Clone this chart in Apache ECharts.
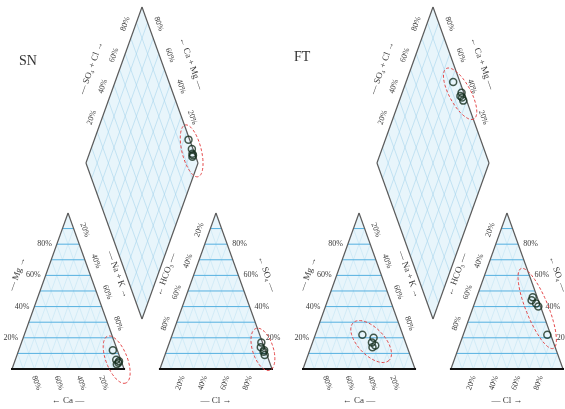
<!DOCTYPE html>
<html>
<head>
<meta charset="utf-8">
<script src="https://cdn.jsdelivr.net/npm/echarts@6/dist/echarts.min.js"></script>
<style>
  html, body { margin: 0; padding: 0; background: #fff; }
  #chart { width: 565px; height: 409px; }
</style>
</head>
<body>
<div id="chart"></div>
<script>
// sites (one Piper diagram each)
const sites = ['SN', 'FT'];

// SN samples, % meq/L
const snCa   = [3, 4, 2, 5, 4];
const snMg   = [4, 6, 5, 3, 12];
const snNaK  = [93, 90, 93, 92, 84];
const snHCO3 = [2, 1, 3, 2, 1];
const snSO4  = [9, 12, 14, 11, 17];
const snCl   = [89, 87, 83, 87, 82];

// FT samples, % meq/L
const ftCa   = [28, 30, 27, 31, 36];
const ftMg   = [15, 17, 20, 14, 22];
const ftNaK  = [57, 53, 53, 55, 42];
const ftHCO3 = [3, 2, 4, 3, 6];
const ftSO4  = [42, 40, 46, 22, 44];
const ftCl   = [55, 58, 50, 75, 50];

const tickValues = [20, 40, 60, 80];
const tickLabels = ['20%', '40%', '60%', '80%'];

const G = 0.32;          // gap between the two triangles (triangle width = 1)
const EXT = 2 + G;       // axis extent in both directions
const FONT = '"Liberation Serif", "DejaVu Serif", serif';
const LBL = '#3a3a3a';
const HLINE = '#55b0e0';
const DIAG = '#c3e4f3';
const LATT = '#a8d5ec';
const EDGE = '#5a5a5a';

// ternary -> panel units
const catXY = (ca, mg, nak) => [(nak + mg / 2) / 100, mg / 100];
const anXY = (hco3, so4, cl) => [1 + G + (cl + so4 / 2) / 100, so4 / 100];
const dmXY = (ca, mg, so4, cl) => {
  const a = (so4 + cl) / 100, c = (ca + mg) / 100;
  return [1 + G / 2 + 0.5 * (a - c), G + a + c];
};

function sitePoints(ca, mg, nak, hco3, so4, cl) {
  return [
    ca.map((_, i) => catXY(ca[i], mg[i], nak[i])),
    ca.map((_, i) => anXY(hco3[i], so4[i], cl[i])),
    ca.map((_, i) => dmXY(ca[i], mg[i], so4[i], cl[i]))
  ];
}
const groups = [
  sitePoints(snCa, snMg, snNaK, snHCO3, snSO4, snCl),
  sitePoints(ftCa, ftMg, ftNaK, ftHCO3, ftSO4, ftCl)
];

function frameItem(params, api) {
  const P = (x, y) => api.coord([x, y]);
  const ch = [];
  const seg = (a, b, stroke, w) => ch.push({ type: 'line', shape: { x1: a[0], y1: a[1], x2: b[0], y2: b[1] }, style: { stroke, lineWidth: w } });
  const poly = (pts, style) => ch.push({ type: 'polygon', shape: { points: pts }, style });
  const text = (x, y, s, rot, align, size) => ch.push({
    type: 'text', x, y, rotation: rot || 0, z2: 5,
    style: { text: s, fill: LBL, font: (size || 8) + 'px ' + FONT, align: align || 'center', verticalAlign: 'middle' }
  });
  // point at fraction f of A->B, pushed d px to the outer (left-hand) side
  const along = (A, B, f, d) => {
    const dx = B[0] - A[0], dy = B[1] - A[1], L = Math.hypot(dx, dy);
    const ux = dx / L, uy = dy / L;
    return { x: A[0] + f * dx + d * uy, y: A[1] + f * dy - d * ux, rot: -Math.atan2(dy, dx) };
  };
  const edgeText = (A, B, f, d, s, size) => { const q = along(A, B, f, d); text(q.x, q.y, s, q.rot, 'center', size); };

  const cBL = P(0, 0), cBR = P(1, 0), cT = P(0.5, 1);
  const aBL = P(1 + G, 0), aBR = P(2 + G, 0), aT = P(1.5 + G, 1);
  const dB = P(1 + G / 2, G), dL = P(0.5 + G / 2, 1 + G), dT = P(1 + G / 2, 2 + G), dR = P(1.5 + G / 2, 1 + G);

  const fill = { fill: '#e8f5fb', stroke: 'none' };
  poly([cBL, cBR, cT], fill);
  poly([aBL, aBR, aT], fill);
  poly([dB, dR, dT, dL], fill);

  for (let k = 1; k < 10; k++) {
    const v = k / 10;
    [0, 1 + G].forEach(x0 => {
      seg(P(x0 + v, 0), P(x0 + v + (1 - v) / 2, 1 - v), DIAG, 0.6);
      seg(P(x0 + 1 - v, 0), P(x0 + (1 - v) / 2, 1 - v), DIAG, 0.6);
    });
    const bx = 1 + G / 2;
    seg(P(bx + 0.5 * v, G + v), P(bx + 0.5 * v - 0.5, G + v + 1), LATT, 0.6);
    seg(P(bx - 0.5 * v, G + v), P(bx - 0.5 * v + 0.5, G + v + 1), LATT, 0.6);
  }
  for (let k = 1; k < 10; k++) {
    const v = k / 10;
    [0, 1 + G].forEach(x0 => seg(P(x0 + v / 2, v), P(x0 + 1 - v / 2, v), HLINE, 1));
  }

  // outlines
  seg(cBL, cT, EDGE, 1.2); seg(cT, cBR, EDGE, 1.2);
  seg(aBL, aT, EDGE, 1.2); seg(aT, aBR, EDGE, 1.2);
  seg(dB, dR, EDGE, 1.2); seg(dR, dT, EDGE, 1.2); seg(dT, dL, EDGE, 1.2); seg(dL, dB, EDGE, 1.2);
  seg([cBL[0] - 1, cBL[1]], [cBR[0] + 1, cBR[1]], '#111', 2);
  seg([aBL[0] - 1, aBL[1]], [aBR[0] + 1, aBR[1]], '#111', 2);

  const rDown = along(cT, cBR, 0, 0).rot;
  const rUp = along(aBL, aT, 0, 0).rot;

  tickValues.forEach((v, i) => {
    const s = tickLabels[i], f = v / 100;
    // cation triangle
    const m = P(f / 2, f);
    text(m[0] - 5, m[1], s, 0, 'right');                 // Mg
    edgeText(cT, cBR, f - 0.07, 10, s);                    // Na + K
    const b = P(1 - f, 0);
    text(b[0] + 2, b[1] + 14, s, rDown);                   // Ca
    // anion triangle
    const so = P(2 + G - f / 2, f);
    text(so[0] + 5, so[1], s, 0, 'left');                 // SO4
    edgeText(aBL, aT, 1 - f + 0.07, 10, s);                // HCO3
    const c = P(1 + G + f, 0);
    text(c[0] - 2, c[1] + 14, s, rUp);                     // Cl
    // diamond
    edgeText(dL, dT, f + 0.07, 10, s);                     // SO4 + Cl
    edgeText(dT, dR, 1 - f - 0.07, 10, s);                 // Ca + Mg
  });

  edgeText(cBL, cT, 0.55, 27, '\u2014 Mg \u2192', 9);
  edgeText(cT, cBR, 0.45, 26, '\u2014 Na + K \u2192', 9);
  edgeText(aBL, aT, 0.55, 26, '\u2190 HCO\u2083 \u2014', 9);
  edgeText(aT, aBR, 0.45, 27, '\u2190 SO\u2084 \u2014', 9);
  edgeText(dL, dT, 0.55, 27, '\u2014 SO\u2084 + Cl \u2192', 9);
  edgeText(dT, dR, 0.42, 27, '\u2190 Ca + Mg \u2014', 9);
  const cm = P(0.5, 0), am = P(1.5 + G, 0);
  text(cm[0], cm[1] + 32, '\u2190 Ca \u2014', 0, 'center', 9);
  text(am[0], am[1] + 32, '\u2014 Cl \u2192', 0, 'center', 9);

  return { type: 'group', children: ch };
}

function ellipseItem(site) {
  return function (params, api) {
    const pts = groups[site][params.dataIndex].map(p => api.coord(p));
    const n = pts.length;
    const mx = pts.reduce((s, p) => s + p[0], 0) / n;
    const my = pts.reduce((s, p) => s + p[1], 0) / n;
    let sxx = 0, syy = 0, sxy = 0;
    pts.forEach(p => { const dx = p[0] - mx, dy = p[1] - my; sxx += dx * dx; syy += dy * dy; sxy += dx * dy; });
    const phi = 0.5 * Math.atan2(2 * sxy, sxx - syy);
    const c = Math.cos(phi), s = Math.sin(phi);
    let a = 0, b = 0;
    pts.forEach(p => {
      const dx = p[0] - mx, dy = p[1] - my;
      a = Math.max(a, Math.abs(dx * c + dy * s));
      b = Math.max(b, Math.abs(-dx * s + dy * c));
    });
    a += 15; b += 9;
    const out = [];
    for (let k = 0; k < 72; k++) {
      const t = k / 72 * 2 * Math.PI, ex = a * Math.cos(t), ey = b * Math.sin(t);
      out.push([mx + ex * c - ey * s, my + ex * s + ey * c]);
    }
    return { type: 'polygon', shape: { points: out }, style: { fill: 'none', stroke: '#e5484a', lineWidth: 1, lineDash: [3, 2] } };
  };
}

const gridLeft = [12, 303];
const series = [];
sites.forEach((name, p) => {
  series.push({
    type: 'custom', xAxisIndex: p, yAxisIndex: p, clip: false, silent: true, z: 1,
    data: [[0, 0]], renderItem: frameItem
  });
  series.push({
    type: 'scatter', name, xAxisIndex: p, yAxisIndex: p, z: 3, symbol: 'circle', symbolSize: 7,
    data: [].concat(groups[p][0], groups[p][1], groups[p][2]),
    itemStyle: { color: 'rgba(0,0,0,0)', borderColor: '#17301f', borderWidth: 1.5 }
  });
  series.push({
    type: 'custom', xAxisIndex: p, yAxisIndex: p, clip: false, silent: true, z: 4,
    data: [[0, 0], [0, 0], [0, 0]], renderItem: ellipseItem(p)
  });
});

const chart = echarts.init(document.getElementById('chart'));
chart.setOption({
  animation: false,
  backgroundColor: '#fff',
  title: [
    { text: 'SN', left: 19, top: 54, padding: 0, textStyle: { fontFamily: FONT, fontSize: 14, fontWeight: 'normal', color: '#333' } },
    { text: 'FT', left: 294, top: 50, padding: 0, textStyle: { fontFamily: FONT, fontSize: 14, fontWeight: 'normal', color: '#333' } }
  ],
  grid: gridLeft.map(l => ({ left: l, top: 7, width: 260, height: 362 })),
  xAxis: gridLeft.map((_, i) => ({ type: 'value', gridIndex: i, min: 0, max: EXT, show: false })),
  yAxis: gridLeft.map((_, i) => ({ type: 'value', gridIndex: i, min: 0, max: EXT, show: false })),
  series
});
</script>
</body>
</html>
